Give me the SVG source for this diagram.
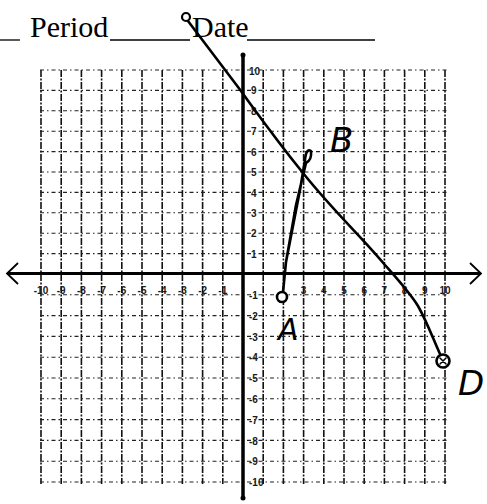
<svg xmlns="http://www.w3.org/2000/svg" width="487" height="504" viewBox="0 0 487 504">
<style>
.vg{stroke:#111;stroke-width:1.6;stroke-dasharray:7 1.5 2 1.5;fill:none}
.hg{stroke:#222;stroke-width:1.1;stroke-dasharray:4 3 1.5 3;fill:none}
.ax{stroke:#000;fill:none}
.hdr{font-family:"Liberation Serif",serif;font-size:30px;fill:#000}
.tk{font-family:"Liberation Sans",Arial,sans-serif;font-size:10px;fill:#1a1a1a;font-weight:bold}
.tkx{text-anchor:middle}
.hand{font-family:"DejaVu Sans","Liberation Sans",sans-serif;font-style:italic;fill:#000;font-weight:200}
.pen{stroke:#000;fill:none;stroke-linecap:round;stroke-linejoin:round}
</style>
<rect width="487" height="504" fill="#fff"/>
<g id="header">
<line x1="0" y1="40" x2="20" y2="40" stroke="#000" stroke-width="1.3"/>
<text class="hdr" x="30" y="37">Period</text>
<line x1="110" y1="40" x2="190" y2="40" stroke="#000" stroke-width="1.3"/>
<text class="hdr" x="192" y="37">Date</text>
<line x1="247" y1="40" x2="375" y2="40" stroke="#000" stroke-width="1.3"/>
</g>
<g id="grid">
<g class="vg">
<line x1="41" y1="70" x2="41" y2="484"/>
<line x1="61.2" y1="70" x2="61.2" y2="484"/>
<line x1="81.4" y1="70" x2="81.4" y2="484"/>
<line x1="101.6" y1="70" x2="101.6" y2="484"/>
<line x1="121.8" y1="70" x2="121.8" y2="484"/>
<line x1="142" y1="70" x2="142" y2="484"/>
<line x1="162.2" y1="70" x2="162.2" y2="484"/>
<line x1="182.4" y1="70" x2="182.4" y2="484"/>
<line x1="202.6" y1="70" x2="202.6" y2="484"/>
<line x1="222.8" y1="70" x2="222.8" y2="484"/>
<line x1="263.2" y1="70" x2="263.2" y2="484"/>
<line x1="283.4" y1="70" x2="283.4" y2="484"/>
<line x1="303.6" y1="70" x2="303.6" y2="484"/>
<line x1="323.8" y1="70" x2="323.8" y2="484"/>
<line x1="344" y1="70" x2="344" y2="484"/>
<line x1="364.2" y1="70" x2="364.2" y2="484"/>
<line x1="384.4" y1="70" x2="384.4" y2="484"/>
<line x1="404.6" y1="70" x2="404.6" y2="484"/>
<line x1="424.8" y1="70" x2="424.8" y2="484"/>
<line x1="445" y1="70" x2="445" y2="484"/>
</g>
<g class="hg">
<line x1="40" y1="70" x2="447" y2="70"/>
<line x1="40" y1="90.4" x2="447" y2="90.4"/>
<line x1="40" y1="110.8" x2="447" y2="110.8"/>
<line x1="40" y1="131.2" x2="447" y2="131.2"/>
<line x1="40" y1="151.6" x2="447" y2="151.6"/>
<line x1="40" y1="172" x2="447" y2="172"/>
<line x1="40" y1="192.4" x2="447" y2="192.4"/>
<line x1="40" y1="212.8" x2="447" y2="212.8"/>
<line x1="40" y1="233.2" x2="447" y2="233.2"/>
<line x1="40" y1="253.6" x2="447" y2="253.6"/>
<line x1="40" y1="294.8" x2="447" y2="294.8"/>
<line x1="40" y1="315.6" x2="447" y2="315.6"/>
<line x1="40" y1="336.4" x2="447" y2="336.4"/>
<line x1="40" y1="357.2" x2="447" y2="357.2"/>
<line x1="40" y1="378" x2="447" y2="378"/>
<line x1="40" y1="398.8" x2="447" y2="398.8"/>
<line x1="40" y1="419.6" x2="447" y2="419.6"/>
<line x1="40" y1="440.4" x2="447" y2="440.4"/>
<line x1="40" y1="461.2" x2="447" y2="461.2"/>
<line x1="40" y1="482" x2="447" y2="482"/>
</g>
</g>
<g id="axes">
<line class="ax" x1="8" y1="273.5" x2="481" y2="273.5" stroke-width="3"/>
<polyline class="ax" points="18,263 7,273.5 18,284" stroke-width="1.8"/>
<polyline class="ax" points="470,263 481,273.5 470,284" stroke-width="1.8"/>
<line class="ax" x1="243" y1="55" x2="243" y2="499" stroke-width="3.5"/>
<circle cx="243" cy="55" r="2.5" fill="#000"/>
<circle cx="243" cy="498" r="2.5" fill="#000"/>
</g>
<g id="ticks">
<text class="tk" x="249" y="75">10</text>
<text class="tk" x="251" y="94">9</text>
<text class="tk" x="251" y="115">8</text>
<text class="tk" x="251" y="135">7</text>
<text class="tk" x="251" y="156">6</text>
<text class="tk" x="251" y="176">5</text>
<text class="tk" x="251" y="197">4</text>
<text class="tk" x="251" y="217">3</text>
<text class="tk" x="251" y="237">2</text>
<text class="tk" x="251" y="258">1</text>
<text class="tk" x="249" y="299">-1</text>
<text class="tk" x="249" y="320">-2</text>
<text class="tk" x="249" y="341">-3</text>
<text class="tk" x="249" y="361">-4</text>
<text class="tk" x="249" y="382">-5</text>
<text class="tk" x="249" y="403">-6</text>
<text class="tk" x="249" y="424">-7</text>
<text class="tk" x="249" y="445">-8</text>
<text class="tk" x="249" y="465">-9</text>
<text class="tk" x="249" y="486">-10</text>
<g class="tkx">
<text class="tk" x="41" y="294">-10</text>
<text class="tk" x="61.2" y="294">-9</text>
<text class="tk" x="81.4" y="294">-8</text>
<text class="tk" x="101.6" y="294">-7</text>
<text class="tk" x="121.8" y="294">-6</text>
<text class="tk" x="142" y="294">-5</text>
<text class="tk" x="162.2" y="294">-4</text>
<text class="tk" x="182.4" y="294">-3</text>
<text class="tk" x="202.6" y="294">-2</text>
<text class="tk" x="222.8" y="294">-1</text>
<text class="tk" x="303.6" y="294">3</text>
<text class="tk" x="323.8" y="294">4</text>
<text class="tk" x="344" y="294">5</text>
<text class="tk" x="364.2" y="294">6</text>
<text class="tk" x="384.4" y="294">7</text>
<text class="tk" x="404.6" y="294">8</text>
<text class="tk" x="424.8" y="294">9</text>
<text class="tk" x="445" y="294">10</text>
</g>
</g>
<g id="connectors">
<path class="pen" stroke-width="2.6" d="M188,21 L238,87 C250,103 270,132 303,173 S360,235 385,265 C400,282 410,293 418,306 C426,320 432,336 440,354"/>
<path class="pen" stroke-width="2.6" d="M283,292 L286,262 L300,190 L305,160 Q306,148 311,151 Q312,160 306,163 L296,205 L286,262"/>
</g>
<g id="node-top">
<circle cx="186" cy="17" r="4" fill="none" stroke="#000" stroke-width="2.2"/>
</g>
<g id="node-A">
<circle cx="282" cy="297" r="5" fill="#fff" stroke="#000" stroke-width="2.6"/>
<text class="hand" x="278" y="340" font-size="30">A</text>
</g>
<g id="node-B">
<text class="hand" x="330" y="152" font-size="34">B</text>
</g>
<g id="node-D">
<circle cx="443" cy="361" r="6.5" fill="#fff" stroke="#000" stroke-width="2.6"/>
<path class="pen" stroke-width="1.5" d="M440,358 L446,364 M446,358 L440,364"/>
<text class="hand" x="458" y="395" font-size="34">D</text>
</g>
</svg>
